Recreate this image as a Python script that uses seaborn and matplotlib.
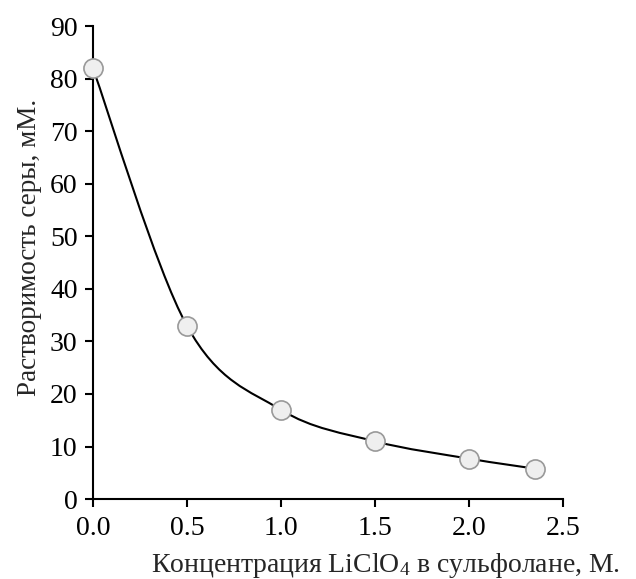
import matplotlib
matplotlib.use('Agg')
import matplotlib.pyplot as plt
import seaborn as sns
import pandas as pd
from matplotlib.path import Path
from matplotlib.patches import PathPatch

conc = [0.0, 0.5, 1.0, 1.5, 2.0, 2.35]
solub = [82.0, 33.0, 17.0, 11.0, 7.7, 5.8]
xticks = [0.0, 0.5, 1.0, 1.5, 2.0, 2.5]
yticks = [0, 10, 20, 30, 40, 50, 60, 70, 80, 90]

df = pd.DataFrame({'conc': conc, 'solub': solub})

sns.set_style('ticks')
plt.rcParams['font.family'] = ['Liberation Serif', 'DejaVu Serif']
plt.rcParams['mathtext.default'] = 'regular'

fig = plt.figure(figsize=(6.36, 5.79), dpi=100)
ax = fig.add_axes([0.146, 0.138, 0.739, 0.817])

# smoothed line like Excel (Catmull-Rom -> cubic Bezier)
pts = list(zip(conc, solub))
verts = [pts[0]]
codes = [Path.MOVETO]
for i in range(len(pts) - 1):
    p0 = pts[i - 1] if i > 0 else pts[i]
    p1 = pts[i]
    p2 = pts[i + 1]
    p3 = pts[i + 2] if i + 2 < len(pts) else pts[i + 1]
    c1 = (p1[0] + (p2[0] - p0[0]) / 6, p1[1] + (p2[1] - p0[1]) / 6)
    c2 = (p2[0] - (p3[0] - p1[0]) / 6, p2[1] - (p3[1] - p1[1]) / 6)
    verts += [c1, c2, p2]
    codes += [Path.CURVE4] * 3
ax.add_patch(PathPatch(Path(verts, codes), facecolor='none',
                       edgecolor='black', lw=1.5, zorder=2))

sns.scatterplot(data=df, x='conc', y='solub', ax=ax, s=190,
                color='#efefef', edgecolor='#999999', linewidth=1.2,
                zorder=3, clip_on=False)

ax.set_xlim(0, 2.5)
ax.set_ylim(0, 90)
ax.set_xticks(xticks)
ax.set_xticklabels([f'{v:.1f}' for v in xticks])
ax.set_yticks(yticks)
ax.tick_params(axis='both', labelsize=20, length=6, width=1.5,
               color='black', labelcolor='black', direction='out')
ax.tick_params(axis='x', pad=6)
ax.tick_params(axis='y', pad=5)
for s in ['left', 'bottom']:
    ax.spines[s].set_linewidth(1.5)
    ax.spines[s].set_color('black')
sns.despine(ax=ax)

ax.set_xlabel('Концентрация LiClO$_4$ в сульфолане, М.', fontsize=20,
              va='center')
ax.xaxis.set_label_coords(0.623, -0.14)
ax.set_ylabel('Растворимость серы, мМ.', fontsize=19.5, va='center')
ax.yaxis.set_label_coords(-0.134, 0.533)

fig.savefig('out.png', dpi=100)
